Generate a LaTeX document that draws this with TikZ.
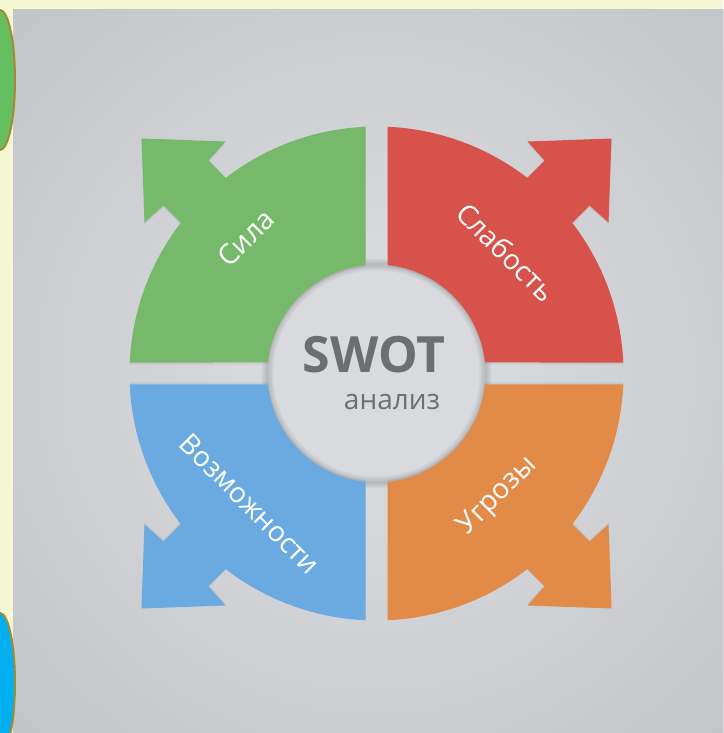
\documentclass[tikz,border=0pt]{standalone}
\usepackage{fontspec}
\setmainfont{Open Sans}
\definecolor{bgyellow}{HTML}{F5F7D4}
\definecolor{panel}{HTML}{BFC0C4}
\definecolor{glow}{HTML}{DEDFE1}
\definecolor{cgreen}{HTML}{77B96B}
\definecolor{cred}{HTML}{D6524A}
\definecolor{cblue}{HTML}{6AAAE0}
\definecolor{corange}{HTML}{E28A48}
\definecolor{disk}{HTML}{D9DADD}
\definecolor{swot}{HTML}{6D6E72}
\definecolor{lgreen}{HTML}{66BF5F}
\definecolor{lblue}{HTML}{00B0F0}
\definecolor{rim}{HTML}{A08C32}
\begin{document}
\begin{tikzpicture}[x=1pt,y=1pt,
  lbl/.style={text=white, font=\fontsize{28}{32}\selectfont, inner sep=0pt, anchor=center}]
\useasboundingbox (0,0) rectangle (723,733);
\fill[bgyellow] (0,0) rectangle (723,733);
\begin{scope}
  \clip (13,0) rectangle (723,723);
  \fill[panel] (13,0) rectangle (723,723);
  \fill[inner color=glow, outer color=panel] (376.5,359.5) circle (600);
\end{scope}
% side circles
\filldraw[fill=lgreen, draw=rim, line width=2pt] (0,653) ellipse [x radius=15, y radius=70];
\filldraw[fill=lblue, draw=rim, line width=2pt] (0,50) ellipse [x radius=15, y radius=70];
% centre disk with soft inner shadow
\fill[disk] (376.5,359.5) circle (109);
\foreach \w in {3,6,9,12}{
  \draw[black, opacity=0.035, line width=\w pt] (376.5,359.5) circle (109);
}
% quadrants
\foreach \sx/\sy/\col in {-1/1/cgreen, 1/1/cred, -1/-1/cblue, 1/-1/corange}{
  \begin{scope}[shift={(376.5,359.5)}, xscale=\sx, yscale=\sy]
    \fill[black, opacity=0.06, shift={(0,-2)}] (11,108.44) -- (11,246.75)
      arc[start angle=87.45, end angle=52.4, radius=247]
      -- (168,213) -- (151,232) -- (235,235) -- (232,151) -- (213,168)
      -- (195.7,150.7)
      arc[start angle=37.6, end angle=2.55, radius=247]
      -- (108.44,11)
      arc[start angle=5.79, end angle=84.21, radius=109] -- cycle;
    \fill[\col] (11,108.44) -- (11,246.75)
      arc[start angle=87.45, end angle=52.4, radius=247]
      -- (168,213) -- (151,232) -- (235,235) -- (232,151) -- (213,168)
      -- (195.7,150.7)
      arc[start angle=37.6, end angle=2.55, radius=247]
      -- (108.44,11)
      arc[start angle=5.79, end angle=84.21, radius=109] -- cycle;
  \end{scope}
}
% labels
\node[lbl, rotate=45]  (s) at (246,495) {Сила};
\node[lbl, rotate=-45] (w) at (506,481) {Слабость};
\node[lbl, rotate=-45] (o) at (250,229) {Возможности};
\node[lbl, rotate=45]  (t) at (498,237) {Угрозы};
\node[text=swot, font=\fontsize{50}{56}\bfseries\selectfont, inner sep=0pt] (title) at (374,378) {SWOT};
\node[text=swot, font=\fontsize{28}{32}\selectfont, inner sep=0pt] (sub) at (392,331) {анализ};
\end{tikzpicture}
\end{document}
